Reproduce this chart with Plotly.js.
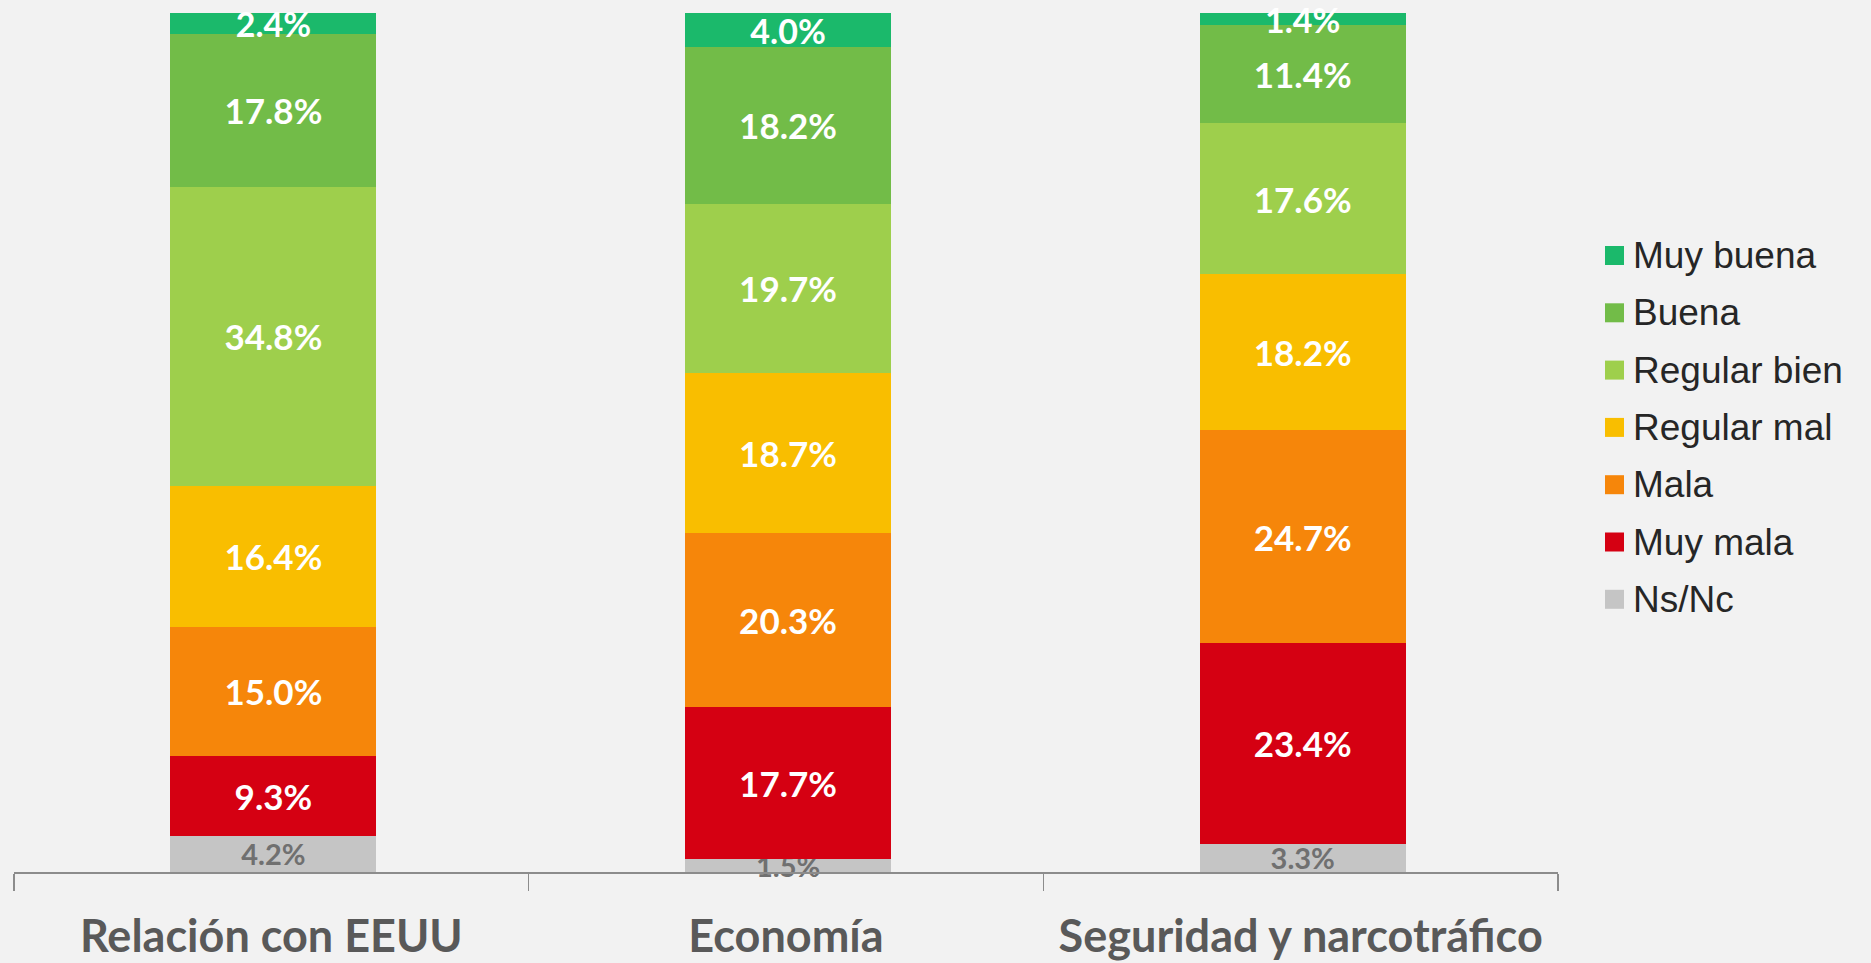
<!DOCTYPE html>
<html>
<head>
<meta charset="utf-8">
<script src="https://cdn.plot.ly/plotly-3.0.1.min.js"></script>
<style>html,body{margin:0;padding:0;background:#F2F2F2;}#chart{width:1871px;height:963px;}</style>
</head>
<body>
<div id="chart"></div>
<script>
// ---- Data ----
const categories = ["Relación con EEUU", "Economía", "Seguridad y narcotráfico"];
const seriesNames = ["Ns/Nc", "Muy mala", "Mala", "Regular mal", "Regular bien", "Buena", "Muy buena"];
const nsnc        = [4.2, 1.5, 3.3];
const muyMala     = [9.3, 17.7, 23.4];
const mala        = [15.0, 20.3, 24.7];
const regularMal  = [16.4, 18.7, 18.2];
const regularBien = [34.8, 19.7, 17.6];
const buena       = [17.8, 18.2, 11.4];
const muyBuena    = [2.4, 4.0, 1.4];

const seriesValues = [nsnc, muyMala, mala, regularMal, regularBien, buena, muyBuena];
const seriesColors = ["#C5C5C5", "#D50012", "#F6860A", "#F9BE00", "#9ECF4C", "#72BC48", "#1BB96B"];
const textColors   = ["#707070", "#FFFFFF", "#FFFFFF", "#FFFFFF", "#FFFFFF", "#FFFFFF", "#FFFFFF"];
const textSizes    = [29, 35, 35, 35, 35, 35, 34];

const traces = seriesValues.map((vals, i) => ({
  type: "bar",
  name: seriesNames[i],
  x: categories,
  y: vals,
  width: 0.4,
  offset: -0.196,
  text: vals.map(v => v.toFixed(1) + "%"),
  texttemplate: "%{text}",
  textposition: "inside",
  insidetextanchor: "middle",
  constraintext: "none",
  textfont: {family: "Lato, sans-serif", size: textSizes[i], color: textColors[i], weight: 700},
  marker: {color: seriesColors[i], line: {width: 0}},
  hoverinfo: "none",
  showlegend: false,
  cliponaxis: false
}));

// ---- Manual legend (top item = Muy buena) ----
const L = 14, R = 1558, T = 13, B = 872;
const px = x => (x - L) / (R - L);
const py = y => (B - y) / (B - T);
const shapes = [];
const annotations = [];
const legendOrder = seriesNames.slice().reverse();
const legendColors = seriesColors.slice().reverse();
legendOrder.forEach((name, i) => {
  const cy = 255.5 + i * 57.3;
  shapes.push({type: "rect", xref: "paper", yref: "paper",
    x0: px(1605), x1: px(1624), y0: py(cy - 9.5), y1: py(cy + 9.5),
    fillcolor: legendColors[i], line: {width: 0}});
  annotations.push({xref: "paper", yref: "paper", x: px(1631), y: py(cy),
    xanchor: "left", yanchor: "middle", showarrow: false, text: name,
    font: {family: "Liberation Sans, Arial, sans-serif", size: 37, color: "#262626"}});
});

const layout = {
  width: 1871, height: 963,
  margin: {l: L, r: 1871 - R, t: T, b: 963 - B, pad: 0},
  paper_bgcolor: "#F2F2F2",
  plot_bgcolor: "#F2F2F2",
  barmode: "stack",
  barnorm: "percent",
  showlegend: false,
  xaxis: {
    type: "category",
    range: [-0.5, 2.5],
    tickson: "boundaries",
    ticks: "outside",
    ticklen: 17,
    tickwidth: 1.5,
    tickcolor: "#8C8C8C",
    showline: true,
    linecolor: "#8C8C8C",
    linewidth: 2,
    showgrid: false,
    zeroline: false,
    ticklabelstandoff: 24,
    tickfont: {family: "Lato, sans-serif", size: 45, color: "#595959", weight: 700},
    fixedrange: true
  },
  yaxis: {
    range: [0, 100],
    visible: false,
    showgrid: false,
    zeroline: false,
    fixedrange: true
  },
  shapes: shapes,
  annotations: annotations
};

Plotly.newPlot("chart", traces, layout, {displayModeBar: false, staticPlot: true});
</script>
</body>
</html>
